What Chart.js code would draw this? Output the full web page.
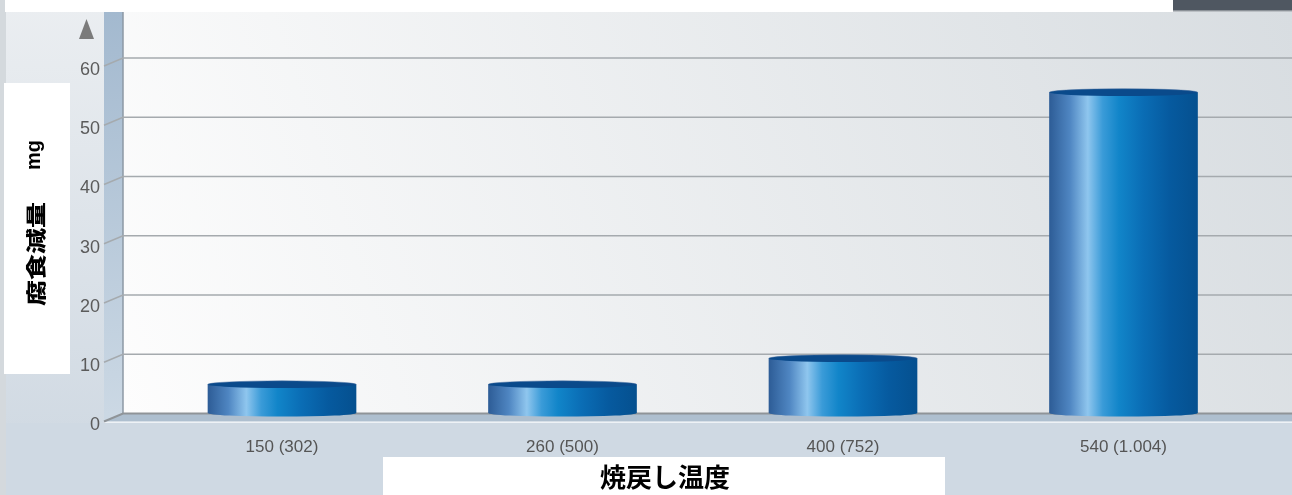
<!DOCTYPE html>
<html lang="ja">
<head>
<meta charset="utf-8">
<title>腐食減量</title>
<script src="https://cdn.jsdelivr.net/npm/chart.js@4/dist/chart.umd.min.js"></script>
<style>
  html, body { margin: 0; padding: 0; background: #cfd9e3; }
  #chart { display: block; }
</style>
</head>
<body>
<canvas id="chart" width="1292" height="495"></canvas>
<script>
// Corrosion loss vs tempering temperature
const CATEGORIES = ['150 (302)', '260 (500)', '400 (752)', '540 (1.004)'];
const CORROSION_LOSS = [4.9, 4.9, 9.3, 54.2];
const Y_TICKS = [0, 10, 20, 30, 40, 50, 60];
const Y_TITLE = '腐食減量';
const Y_UNIT = 'mg';
const X_TITLE = '焼戻し温度';

const BAR_PCT = 0.53;
const SANS = "'Liberation Sans', Arial, sans-serif";
const CJK = "'Noto Sans CJK JP', sans-serif";

const BAR_STOPS = [
  [0.00, '#2d5c96'], [0.14, '#4f86c2'], [0.26, '#8fc6ee'], [0.36, '#3a9bd8'],
  [0.47, '#1185c9'], [0.63, '#0a6db5'], [0.81, '#065a9f'], [1.00, '#05508f']
];

function barGradient(chart, index) {
  const xs = chart.scales.x;
  if (!xs || !chart.chartArea) return '#0a6cb4';
  const cx = xs.getPixelForValue(index);
  const half = xs.width / CATEGORIES.length * BAR_PCT / 2;
  const g = chart.ctx.createLinearGradient(cx - half, 0, cx + half, 0);
  BAR_STOPS.forEach(([o, c]) => g.addColorStop(o, c));
  return g;
}

// box, walls, floor and grid lines
const backdrop = {
  id: 'backdrop',
  beforeDraw(chart) {
    const ctx = chart.ctx;
    const W = chart.width, H = chart.height;
    const ys = chart.scales.y;
    const floorY = ys.getPixelForValue(Y_TICKS[0]);
    const wallX = 123, frontX = 104, top = 12;
    ctx.save();

    let g = ctx.createLinearGradient(0, 0, 0, H);
    g.addColorStop(0, '#ebeef1');
    g.addColorStop(1, '#cdd7e1');
    ctx.fillStyle = g;
    ctx.fillRect(0, 0, W, H);
    ctx.fillStyle = '#d4d9dd';
    ctx.fillRect(0, 0, 6, H);

    // back wall
    g = ctx.createLinearGradient(wallX, floorY, W, top);
    g.addColorStop(0, '#fdfdfd');
    g.addColorStop(1, '#d8dde1');
    ctx.fillStyle = g;
    ctx.fillRect(wallX, top, W - wallX, floorY - top);

    // side wall
    g = ctx.createLinearGradient(0, top, 0, floorY);
    g.addColorStop(0, '#a3b9cf');
    g.addColorStop(1, '#cbd8e4');
    ctx.fillStyle = g;
    ctx.beginPath();
    ctx.moveTo(frontX, top);
    ctx.lineTo(wallX, top);
    ctx.lineTo(wallX, floorY);
    ctx.lineTo(frontX, floorY + 8);
    ctx.closePath();
    ctx.fill();
    ctx.strokeStyle = '#8d99a5';
    ctx.lineWidth = 1.5;
    ctx.beginPath();
    ctx.moveTo(wallX, top);
    ctx.lineTo(wallX, floorY);
    ctx.stroke();

    // floor
    ctx.fillStyle = '#aebfcf';
    ctx.beginPath();
    ctx.moveTo(frontX, floorY + 8);
    ctx.lineTo(wallX, floorY);
    ctx.lineTo(W, floorY);
    ctx.lineTo(W, floorY + 8);
    ctx.closePath();
    ctx.fill();
    ctx.fillStyle = '#cfd9e3';
    ctx.fillRect(6, floorY + 9.5, W - 6, H);
    ctx.strokeStyle = '#eef2f6';
    ctx.beginPath();
    ctx.moveTo(frontX, floorY + 8.8);
    ctx.lineTo(W, floorY + 8.8);
    ctx.stroke();
    ctx.strokeStyle = '#8f9498';
    ctx.lineWidth = 2;
    ctx.beginPath();
    ctx.moveTo(frontX, floorY + 8);
    ctx.lineTo(wallX, floorY);
    ctx.lineTo(W, floorY);
    ctx.stroke();

    // grid lines
    ctx.strokeStyle = '#a5aaae';
    ctx.lineWidth = 1.5;
    Y_TICKS.slice(1).forEach(v => {
      const y = ys.getPixelForValue(v);
      ctx.beginPath();
      ctx.moveTo(frontX, y + 8);
      ctx.lineTo(wallX, y);
      ctx.lineTo(W, y);
      ctx.stroke();
    });

    // axis arrow
    ctx.fillStyle = '#7b7b7b';
    ctx.beginPath();
    ctx.moveTo(79, 39);
    ctx.lineTo(94, 39);
    ctx.lineTo(86.5, 19);
    ctx.closePath();
    ctx.fill();

    // top band
    ctx.fillStyle = '#ffffff';
    ctx.fillRect(5, 0, 1168, top);
    ctx.fillStyle = '#4f5761';
    ctx.fillRect(1173, 0, W - 1173, 10);
    ctx.fillStyle = '#8b9197';
    ctx.fillRect(1173, 10, W - 1173, 1.5);
    ctx.restore();
  }
};

const cylinderCaps = {
  id: 'cylinderCaps',
  afterDatasetsDraw(chart) {
    const ctx = chart.ctx;
    chart.getDatasetMeta(0).data.forEach((bar, i) => {
      const { x, y, base, width } = bar.getProps(['x', 'y', 'base', 'width'], true);
      const rx = width / 2, ry = 3.6;
      ctx.save();
      ctx.fillStyle = barGradient(chart, i);
      ctx.beginPath();
      ctx.ellipse(x, base, rx, ry, 0, 0, Math.PI);
      ctx.fill();
      ctx.fillStyle = '#0a4a8b';
      ctx.beginPath();
      ctx.ellipse(x, y, rx, ry, 0, 0, Math.PI * 2);
      ctx.fill();
      ctx.strokeStyle = 'rgba(70,110,160,0.5)';
      ctx.lineWidth = 1;
      ctx.beginPath();
      ctx.ellipse(x, y, rx, ry, 0, Math.PI, Math.PI * 2);
      ctx.stroke();
      ctx.restore();
    });
  }
};

// axis titles on white boxes
const titles = {
  id: 'titles',
  afterDraw(chart) {
    const ctx = chart.ctx;
    ctx.save();
    ctx.fillStyle = '#ffffff';
    ctx.fillRect(4, 83, 66, 291);
    ctx.fillRect(383, 457, 562, 38);

    ctx.fillStyle = '#000000';
    ctx.font = `bold 26px ${CJK}`;
    ctx.textAlign = 'center';
    ctx.textBaseline = 'middle';
    ctx.fillText(X_TITLE, 665, 477);

    ctx.translate(36, 306);
    ctx.rotate(-Math.PI / 2);
    ctx.textAlign = 'left';
    ctx.font = `bold 20px ${SANS}`;
    ctx.textBaseline = 'alphabetic';
    ctx.fillText(Y_UNIT, 136, 3.5);
    ctx.scale(1, 0.78);
    ctx.font = `900 26px ${CJK}`;
    ctx.textBaseline = 'middle';
    ctx.fillText(Y_TITLE, 0, 0);
    ctx.restore();
  }
};

new Chart(document.getElementById('chart'), {
  type: 'bar',
  data: {
    labels: CATEGORIES,
    datasets: [{
      data: CORROSION_LOSS,
      backgroundColor: c => barGradient(c.chart, c.dataIndex),
      borderWidth: 0,
      categoryPercentage: 1,
      barPercentage: BAR_PCT
    }]
  },
  options: {
    responsive: false,
    animation: false,
    devicePixelRatio: 1,
    layout: { padding: { top: 58, right: 28.25, left: 0, bottom: 0 } },
    plugins: { legend: { display: false }, tooltip: { enabled: false } },
    scales: {
      x: {
        grid: { display: false },
        border: { display: false },
        ticks: { color: '#555555', padding: 15.5, font: { size: 17, family: SANS } },
        afterFit: s => { s.height = 81.5; }
      },
      y: {
        min: Y_TICKS[0],
        max: Y_TICKS[Y_TICKS.length - 1],
        afterBuildTicks: s => { s.ticks = Y_TICKS.map(v => ({ value: v })); },
        grid: { drawOnChartArea: false, drawTicks: false },
        border: { display: false },
        ticks: { color: '#5b5b5b', padding: 41.75, labelOffset: 12, font: { size: 18, family: SANS } },
        afterFit: s => { s.width = 141.75; }
      }
    }
  },
  plugins: [backdrop, cylinderCaps, titles]
});
</script>
</body>
</html>
